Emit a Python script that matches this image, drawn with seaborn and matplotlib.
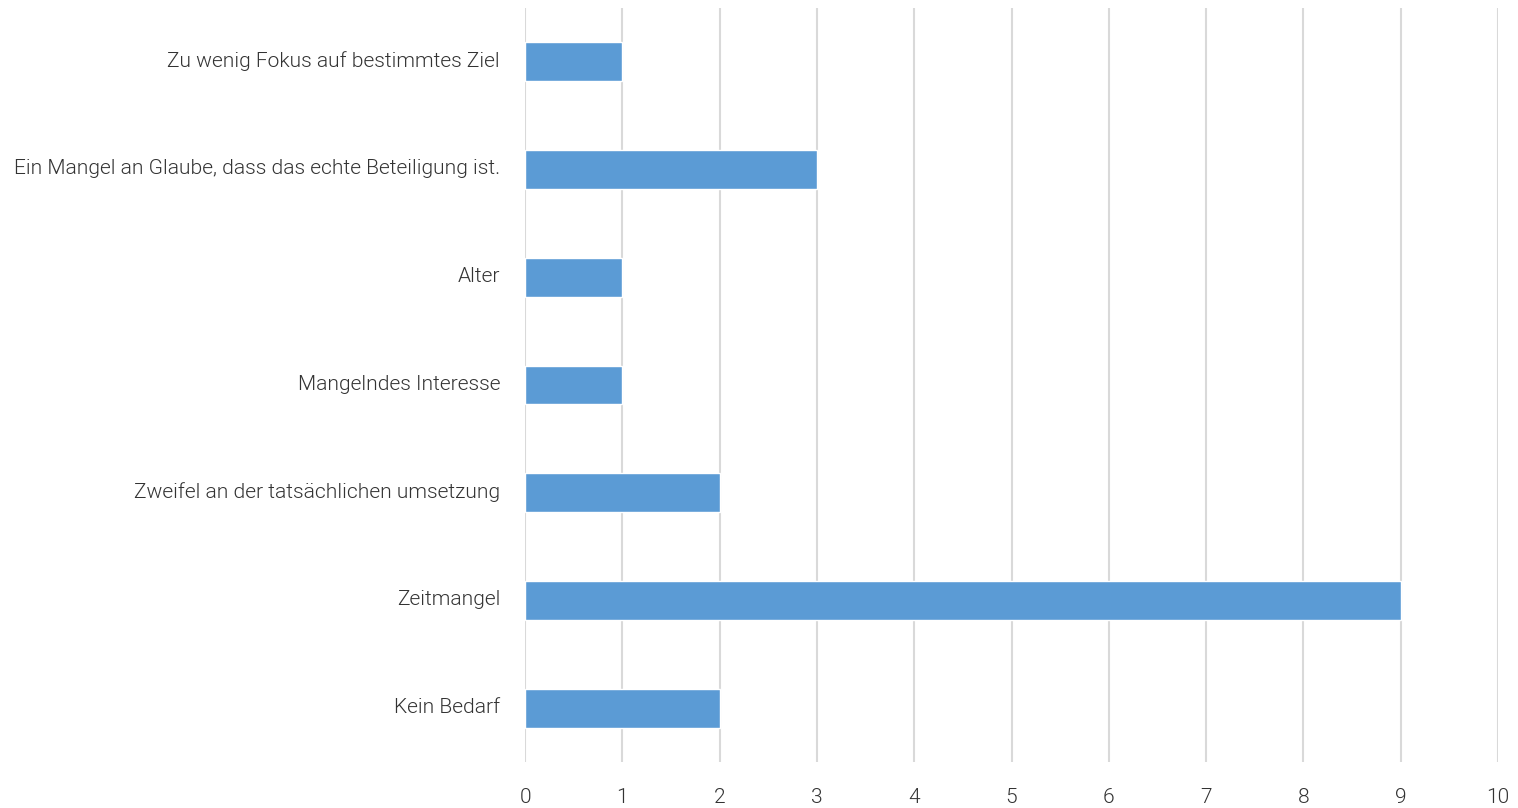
import matplotlib
matplotlib.use("Agg")
import matplotlib.pyplot as plt
import matplotlib.transforms as mtransforms
import seaborn as sns
import pandas as pd

categories = [
    "Zu wenig Fokus auf bestimmtes Ziel",
    "Ein Mangel an Glaube, dass das echte Beteiligung ist.",
    "Alter",
    "Mangelndes Interesse",
    "Zweifel an der tatsächlichen umsetzung",
    "Zeitmangel",
    "Kein Bedarf",
]
counts = [1, 3, 1, 1, 2, 9, 2]
x_ticks = list(range(0, 11))

df = pd.DataFrame({"Grund": categories, "Anzahl": counts})

sns.set_style("white")
plt.rcParams["font.family"] = ["Roboto", "DejaVu Sans"]

fig = plt.figure(figsize=(15.18, 8.08), dpi=100)
ax = fig.add_axes([0.3459, 0.0569, 0.6409, 0.9332])

sns.barplot(data=df, x="Anzahl", y="Grund", orient="h", color="#5B9BD5",
            saturation=1, width=0.36, ax=ax, zorder=3)

ax.set_xlim(0, 10)
ax.set_ylim(6.5, -0.5)
ax.set_xticks(x_ticks)
ax.set_xticklabels([str(t) for t in x_ticks])
ax.xaxis.grid(True, color="#D9D9D9", linewidth=1.5, zorder=0)
ax.yaxis.grid(False)
for s in ax.spines.values():
    s.set_visible(False)
ax.set_xlabel("")
ax.set_ylabel("")
ax.tick_params(axis="x", length=0, pad=19, labelsize=15, labelcolor="#333333")
ax.tick_params(axis="y", length=0, pad=18, labelsize=15.1, labelcolor="#333333")
for lbl in ax.get_xticklabels() + ax.get_yticklabels():
    lbl.set_fontweight(300)

# nudge category labels slightly upward
shift = mtransforms.ScaledTranslation(0, 3 / 100, fig.dpi_scale_trans)
for lbl in ax.get_yticklabels():
    lbl.set_transform(lbl.get_transform() + shift)

fig.savefig("out.png", dpi=100)
